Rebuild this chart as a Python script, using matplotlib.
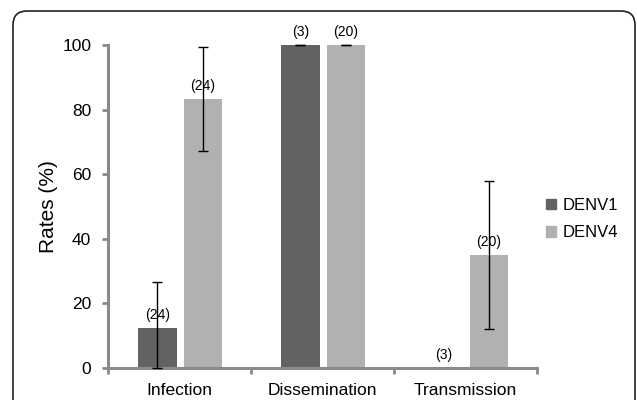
import numpy as np
import matplotlib.pyplot as plt
from matplotlib.patches import FancyBboxPatch, Patch
import matplotlib.transforms as mtransforms

plt.rcParams['font.family'] = ['Liberation Sans', 'DejaVu Sans']

categories = ["Infection", "Dissemination", "Transmission"]
denv1 = [12.5, 100, 0]
denv4 = [83.3, 100, 35]
denv1_err_low = [12.5, 0, np.nan]
denv1_err_high = [14.2, 0, np.nan]
denv4_err_low = [16, 0, 23]
denv4_err_high = [16, 0, 23]
denv1_n = ["(24)", "(3)", "(3)"]
denv4_n = ["(24)", "(20)", "(20)"]

c1 = "#626262"
c4 = "#b1b1b1"
axis_gray = "#8a8a8a"

fig = plt.figure(figsize=(6.37, 4.0), dpi=100)
ax = fig.add_axes([108 / 637, 1 - 368 / 400, (537 - 108) / 637, (368 - 45) / 400])

x = np.arange(len(categories))
w = 0.27
x1 = x - 0.155
x4 = x + 0.163

ax.bar(x1, denv1, width=w, color=c1, label="DENV1", zorder=2)
ax.bar(x4, denv4, width=w, color=c4, label="DENV4", zorder=2)
ax.errorbar(x1, denv1, yerr=[denv1_err_low, denv1_err_high], fmt="none",
            ecolor="black", elinewidth=1.0, capsize=3.5, capthick=1.0, zorder=3, clip_on=False)
ax.errorbar(x4, denv4, yerr=[denv4_err_low, denv4_err_high], fmt="none",
            ecolor="black", elinewidth=1.0, capsize=3.5, capthick=1.0, zorder=3, clip_on=False)

for xi, v, t in zip(x1, denv1, denv1_n):
    ax.annotate(t, (xi, v), xytext=(0, 4), textcoords="offset points",
                ha="center", va="bottom", fontsize=10, zorder=4)
for xi, v, t in zip(x4, denv4, denv4_n):
    ax.annotate(t, (xi, v), xytext=(0, 4), textcoords="offset points",
                ha="center", va="bottom", fontsize=10, zorder=4)

ax.set_xlim(-0.5, 2.5)
ax.set_ylim(0, 100)
ax.set_yticks([0, 20, 40, 60, 80, 100])
ax.set_xticks(x)
ax.set_xticklabels(categories, fontsize=12.5)
ax.set_xticks(np.arange(-0.5, 3, 1), minor=True)
ax.tick_params(axis="x", which="major", length=0, pad=11)
ax.tick_params(axis="x", which="minor", length=4, width=2, color=axis_gray)
ax.tick_params(axis="y", length=4, width=2, color=axis_gray, labelsize=12.5, pad=8)
ax.set_ylabel("Rates (%)", fontsize=15, labelpad=3)

for s in ["top", "right"]:
    ax.spines[s].set_visible(False)
for s in ["left", "bottom"]:
    ax.spines[s].set_color(axis_gray)
    ax.spines[s].set_linewidth(2.2)

handles = [Patch(color=c1, label="DENV1"), Patch(color=c4, label="DENV4")]
fig.legend(handles=handles, loc="center left", bbox_to_anchor=(531 / 637, 1 - 219 / 400),
           frameon=False, fontsize=12, handlelength=0.6, handleheight=0.6,
           handletextpad=0.4, labelspacing=0.75)

frame = FancyBboxPatch((13, -20), 622, 409, boxstyle="round,pad=0,rounding_size=14",
                       transform=mtransforms.IdentityTransform(),
                       facecolor="none", edgecolor="#222222", linewidth=1.2)
fig.add_artist(frame)

fig.savefig("out.png", dpi=100)
